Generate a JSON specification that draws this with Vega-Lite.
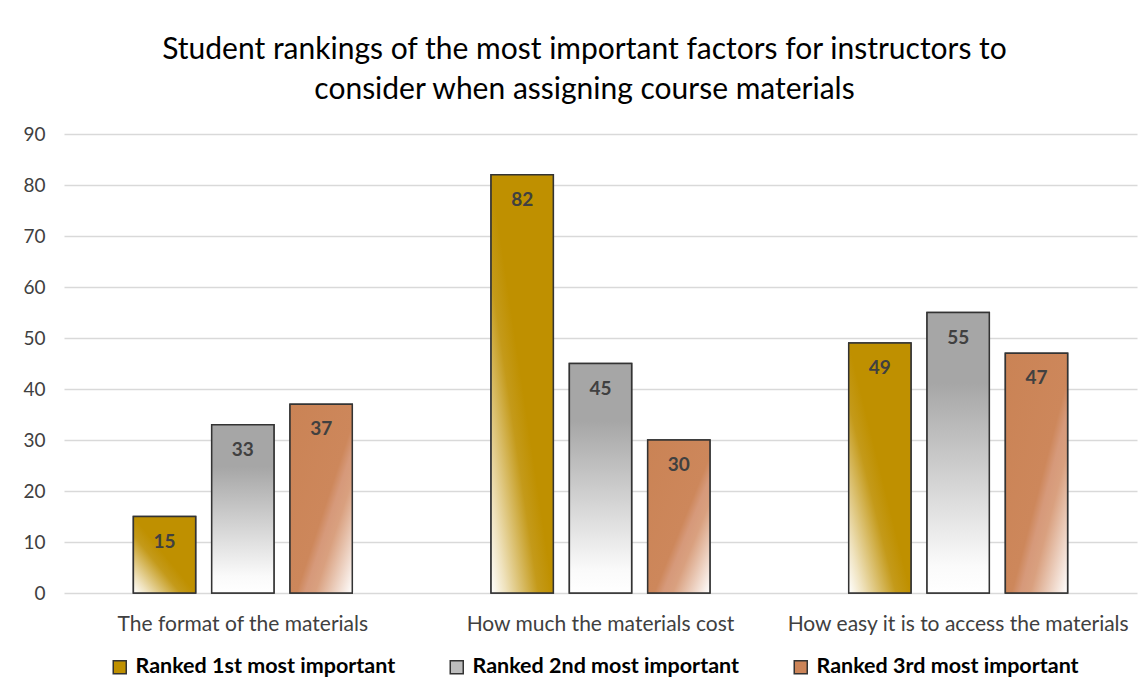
{
  "$schema": "https://vega.github.io/schema/vega-lite/v6.json",
  "width": 1073,
  "height": 459,
  "autosize": "none",
  "padding": {"left": 64, "top": 134, "right": 9, "bottom": 106},
  "background": "white",
  "config": {"font": "Lato", "view": {"stroke": null}},
  "title": {
    "text": ["Student rankings of the most important factors for instructors to", "consider when assigning course materials"],
    "fontSize": 30,
    "fontWeight": "normal",
    "color": "#000000",
    "anchor": "middle",
    "dx": -16,
    "offset": 20,
    "lineHeight": 40
  },
  "data": {
    "values": [
      {"factor": "The format of the materials", "series": "Ranked 1st most important", "count": 15},
      {"factor": "The format of the materials", "series": "Ranked 2nd most important", "count": 33},
      {"factor": "The format of the materials", "series": "Ranked 3rd most important", "count": 37},
      {"factor": "How much the materials cost", "series": "Ranked 1st most important", "count": 82},
      {"factor": "How much the materials cost", "series": "Ranked 2nd most important", "count": 45},
      {"factor": "How much the materials cost", "series": "Ranked 3rd most important", "count": 30},
      {"factor": "How easy it is to access the materials", "series": "Ranked 1st most important", "count": 49},
      {"factor": "How easy it is to access the materials", "series": "Ranked 2nd most important", "count": 55},
      {"factor": "How easy it is to access the materials", "series": "Ranked 3rd most important", "count": 47}
    ]
  },
  "encoding": {
    "x": {
      "field": "factor",
      "type": "nominal",
      "sort": ["The format of the materials", "How much the materials cost", "How easy it is to access the materials"],
      "scale": {"paddingInner": 0.388, "paddingOuter": 0.194},
      "axis": {
        "title": null,
        "labelAngle": 0,
        "domain": false,
        "ticks": false,
        "labelFontSize": 21,
        "labelColor": "#404040",
        "labelPadding": 20,
        "labelLimit": 400
      }
    },
    "xOffset": {
      "field": "series",
      "type": "nominal",
      "sort": ["Ranked 1st most important", "Ranked 2nd most important", "Ranked 3rd most important"],
      "scale": {"paddingInner": 0.205, "paddingOuter": 0}
    },
    "y": {
      "field": "count",
      "type": "quantitative",
      "scale": {"domain": [0, 90]},
      "axis": {
        "title": null,
        "domain": false,
        "ticks": false,
        "values": [0, 10, 20, 30, 40, 50, 60, 70, 80, 90],
        "labelFontSize": 19,
        "labelColor": "#404040",
        "labelPadding": 19,
        "gridColor": "#d9d9d9",
        "gridWidth": 1.5
      }
    }
  },
  "layer": [
    {
      "mark": {"type": "bar", "stroke": "#333333", "strokeWidth": 1.5},
      "encoding": {
        "color": {
          "field": "series",
          "type": "nominal",
          "scale": {
            "domain": ["Ranked 1st most important", "Ranked 2nd most important", "Ranked 3rd most important"],
            "range": ["#bf9000", "#bdbdbd", "#cc8458"]
          },
          "legend": {
            "orient": "none",
            "legendX": 45,
            "legendY": 522,
            "direction": "horizontal",
            "title": null,
            "symbolType": "square",
            "symbolSize": 169,
            "symbolStrokeColor": "#333333",
            "symbolStrokeWidth": 1.5,
            "labelFontSize": 21.5,
            "labelFontWeight": "bold",
            "labelColor": "#000000",
            "labelLimit": 400,
            "labelOffset": 5,
            "columnPadding": 50
          }
        }
      }
    },
    {
      "mark": {"type": "bar", "stroke": "#333333", "strokeWidth": 1.5},
      "encoding": {
        "fill": {
          "condition": [
            {
              "test": "datum.series === 'Ranked 1st most important'",
              "value": {
                "gradient": "linear", "x1": 0, "y1": 1, "x2": 1, "y2": 0,
                "stops": [
                  {"offset": 0, "color": "#ffffff"},
                  {"offset": 0.12, "color": "#efe2bd"},
                  {"offset": 0.38, "color": "#c49a1a"},
                  {"offset": 0.5, "color": "#bf9000"},
                  {"offset": 1, "color": "#bf9000"}
                ]
              }
            },
            {
              "test": "datum.series === 'Ranked 2nd most important'",
              "value": {
                "gradient": "linear", "x1": 0, "y1": 0, "x2": 0, "y2": 1,
                "stops": [
                  {"offset": 0, "color": "#a6a6a6"},
                  {"offset": 0.25, "color": "#a6a6a6"},
                  {"offset": 0.9, "color": "#fafafa"},
                  {"offset": 1, "color": "#ffffff"}
                ]
              }
            }
          ],
          "value": {
            "gradient": "linear", "x1": 0, "y1": 0, "x2": 1, "y2": 1,
            "stops": [
              {"offset": 0, "color": "#ca8355"},
              {"offset": 0.55, "color": "#cd875b"},
              {"offset": 0.62, "color": "#d6997a"},
              {"offset": 0.7, "color": "#d9a07f"},
              {"offset": 1, "color": "#ffffff"}
            ]
          }
        }
      }
    },
    {
      "mark": {"type": "text", "dy": 25, "fontWeight": "bold", "fontSize": 19, "color": "#404040"},
      "encoding": {"text": {"field": "count", "type": "quantitative"}}
    }
  ]
}
